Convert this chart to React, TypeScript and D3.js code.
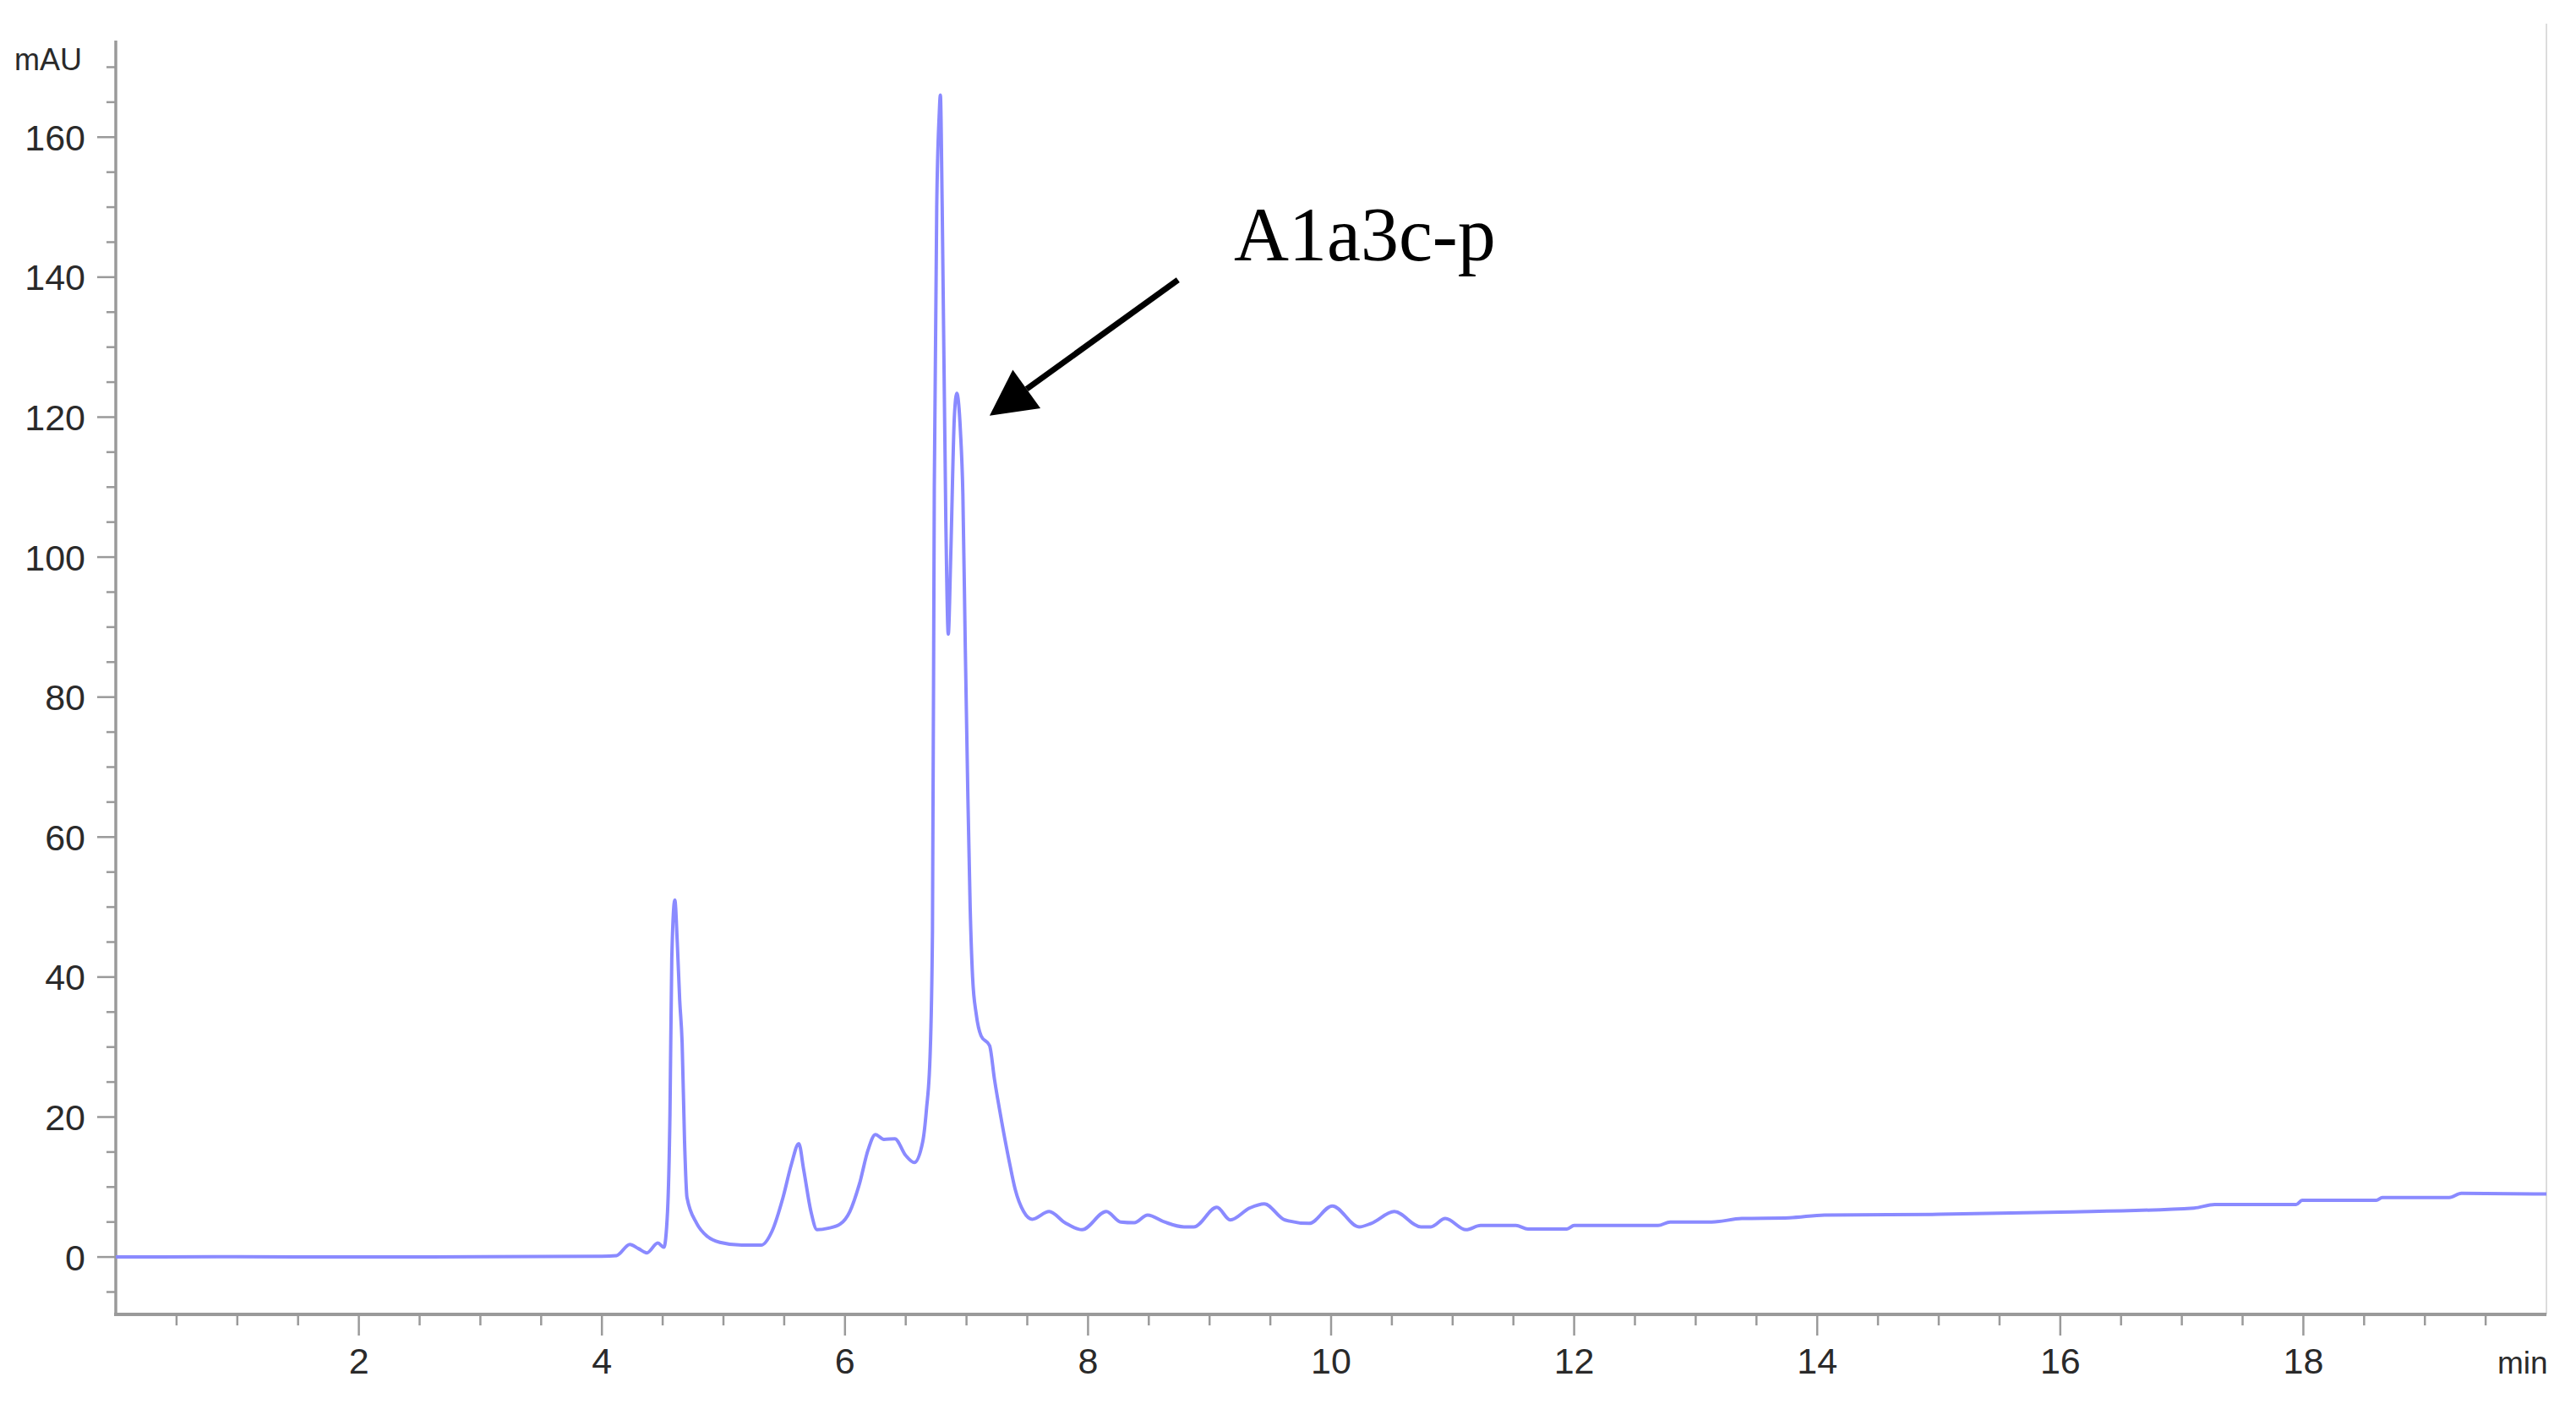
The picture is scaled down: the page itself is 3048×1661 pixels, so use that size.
import * as d3 from "d3";

// retention time (min) and absorbance (mAU)
const times = [
  0, 1, 2, 3, 4.0, 4.12, 4.23, 4.3, 4.37, 4.46, 4.51, 4.54, 4.56, 4.575, 4.6,
  4.62, 4.64, 4.66, 4.68, 4.7, 4.78, 4.87, 4.97, 5.15, 5.31, 5.4, 5.49, 5.56,
  5.62, 5.66, 5.72, 5.77, 5.86, 5.96, 6.04, 6.12, 6.19, 6.25, 6.32, 6.41, 6.5,
  6.57, 6.64, 6.67, 6.7, 6.72, 6.735, 6.755, 6.775, 6.785, 6.8, 6.83, 6.85,
  6.87, 6.9, 6.92, 6.95, 6.97, 6.99, 7.01, 7.03, 7.05, 7.08, 7.12, 7.19, 7.23,
  7.29, 7.35, 7.4, 7.47, 7.54, 7.68, 7.81, 7.95, 8.15, 8.27, 8.38, 8.49, 8.63,
  8.79, 8.87, 9.06, 9.17, 9.33, 9.45, 9.62, 9.82, 10.01, 10.23, 10.33, 10.52,
  10.74, 10.82, 10.94, 11.11, 11.23, 11.52, 11.62, 11.94, 12.0, 12.69, 12.79,
  13.13, 13.38, 13.77, 14.06, 15.0, 16.0, 17.1, 17.27, 17.94, 17.99, 18.6,
  18.65, 19.2, 19.3, 20,
];
const mAU = [
  0, 0.05, 0, 0.05, 0.1, 0.2, 1.8, 1.2, 0.6, 2.0, 1.4, 6.5, 20.5, 42.7, 51,
  45, 36.7, 30.6, 16.5, 8.5, 4.8, 2.9, 2.1, 1.7, 1.7, 3.7, 8.5, 13.3,
  16.2, 12.5, 6.5, 3.9, 4.1, 4.7, 6.5, 10.5, 15.3, 17.5, 16.8, 16.9, 14.5,
  13.5, 16.5, 21, 28.6, 46.7, 110, 150, 163, 166, 150, 105, 89,
  100, 120, 123.4, 118, 109, 87, 67, 50, 40, 34.7, 31.6, 30.2, 25.4,
  19.3, 13.8, 9.7, 6.5, 5.4, 6.5, 4.9, 3.9, 6.5, 5.0, 4.9, 6.0, 5.0,
  4.3, 4.3, 7.1, 5.3, 7.0, 7.6, 5.3, 4.8, 7.3, 4.3, 4.8, 6.5,
  4.3, 4.3, 5.5, 3.9, 4.5, 4.5, 4.0, 4.0, 4.5, 4.5, 5.0,
  5.0, 5.5, 5.6, 6.0, 6.1, 6.4, 7.0, 7.5, 7.5, 8.1, 8.1,
  8.5, 8.5, 9.1, 9.0,
];

const yTickLabels = [0, 20, 40, 60, 80, 100, 120, 140, 160];
const xTickLabels = [2, 4, 6, 8, 10, 12, 14, 16, 18];
const yUnit = "mAU";
const xUnit = "min";

// annotation, in data units: label anchor, arrow tail, arrow tip
const peakLabel = "A1a3c-p";
const labelAt = [9.2, 142.4];
const arrowFrom = [8.74, 139.6];
const arrowTo = [7.19, 120.2];

export default function App() {
  const width = 3048;
  const height = 1661;
  const left = 137;
  const right = 3013;
  const top = 48;
  const bottom = 1555;

  const x = d3.scaleLinear().domain([0, 20]).range([left, right]);
  const y = d3.scaleLinear().domain([-8.2, 173.8]).range([bottom, top]);

  const pts = times.map((t, i) => [t, mAU[i]]);
  const line = d3
    .line()
    .x((d) => x(d[0]))
    .y((d) => y(d[1]))
    .curve(d3.curveMonotoneX);

  const yMinor = d3.range(-5, 171, 5).filter((v) => v % 20 !== 0);
  const xMinor = d3.range(0.5, 20, 0.5).filter((v) => v % 2 !== 0);

  const axisColor = "#9a9a9a";
  const textColor = "#2a2a2a";
  const sans = "'Liberation Sans', Arial, sans-serif";

  // arrow head
  const tx = x(arrowTo[0]);
  const ty = y(arrowTo[1]);
  const fx = x(arrowFrom[0]);
  const fy = y(arrowFrom[1]);
  const len = Math.hypot(fx - tx, fy - ty);
  const ux = (fx - tx) / len;
  const uy = (fy - ty) / len;
  const headLen = 54;
  const headHalf = 28;
  const bx = tx + ux * headLen;
  const by = ty + uy * headLen;
  const head = [
    [tx, ty],
    [bx - uy * headHalf, by + ux * headHalf],
    [bx + uy * headHalf, by - ux * headHalf],
  ]
    .map((p) => p.join(","))
    .join(" ");

  return (
    <svg
      width={width}
      height={height}
      style={{ position: "absolute", left: 0, top: 0, background: "#fff" }}
    >
      <defs>
        <clipPath id="frame">
          <rect x={0} y={0} width={right} height={height} />
        </clipPath>
      </defs>

      {/* right frame edge */}
      <line x1={right} x2={right} y1={28} y2={bottom} stroke="#dcdcdc" strokeWidth={2} />

      {/* y axis */}
      <line x1={left} x2={left} y1={top} y2={bottom + 2} stroke={axisColor} strokeWidth={3.5} />
      {yMinor.map((v) => (
        <line key={"ym" + v} x1={left - 11} x2={left} y1={y(v)} y2={y(v)} stroke={axisColor} strokeWidth={2.5} />
      ))}
      {yTickLabels.map((v) => (
        <g key={"y" + v}>
          <line x1={left - 22} x2={left} y1={y(v)} y2={y(v)} stroke={axisColor} strokeWidth={2.5} />
          <text
            x={101}
            y={y(v)}
            dy="0.36em"
            textAnchor="end"
            fontFamily={sans}
            fontSize={43}
            fill={textColor}
          >
            {v}
          </text>
        </g>
      ))}
      <text x={17} y={83} fontFamily={sans} fontSize={36} fill={textColor}>
        {yUnit}
      </text>

      {/* x axis */}
      <line x1={left - 2} x2={right} y1={bottom} y2={bottom} stroke={axisColor} strokeWidth={4} />
      {xMinor.map((v) => (
        <line key={"xm" + v} x1={x(v)} x2={x(v)} y1={bottom} y2={bottom + 13} stroke={axisColor} strokeWidth={2.5} />
      ))}
      {xTickLabels.map((v) => (
        <g key={"x" + v}>
          <line x1={x(v)} x2={x(v)} y1={bottom} y2={bottom + 25} stroke={axisColor} strokeWidth={2.5} />
          <text
            x={x(v)}
            y={1625}
            textAnchor="middle"
            fontFamily={sans}
            fontSize={43}
            fill={textColor}
          >
            {v}
          </text>
        </g>
      ))}
      <text x={2955} y={1625} fontFamily={sans} fontSize={37} fill={textColor} clipPath="url(#frame)">
        {xUnit}
      </text>

      {/* trace */}
      <path
        d={line(pts as [number, number][]) || ""}
        fill="none"
        stroke="#8a8aff"
        strokeWidth={4}
        strokeLinejoin="round"
      />

      {/* annotation */}
      <line x1={fx} y1={fy} x2={bx} y2={by} stroke="#000" strokeWidth={7} />
      <polygon points={head} fill="#000" />
      <text
        x={x(labelAt[0])}
        y={y(labelAt[1])}
        fontFamily="'Liberation Serif', 'Times New Roman', serif"
        fontSize={90}
        fill="#000"
      >
        {peakLabel}
      </text>
    </svg>
  );
}
